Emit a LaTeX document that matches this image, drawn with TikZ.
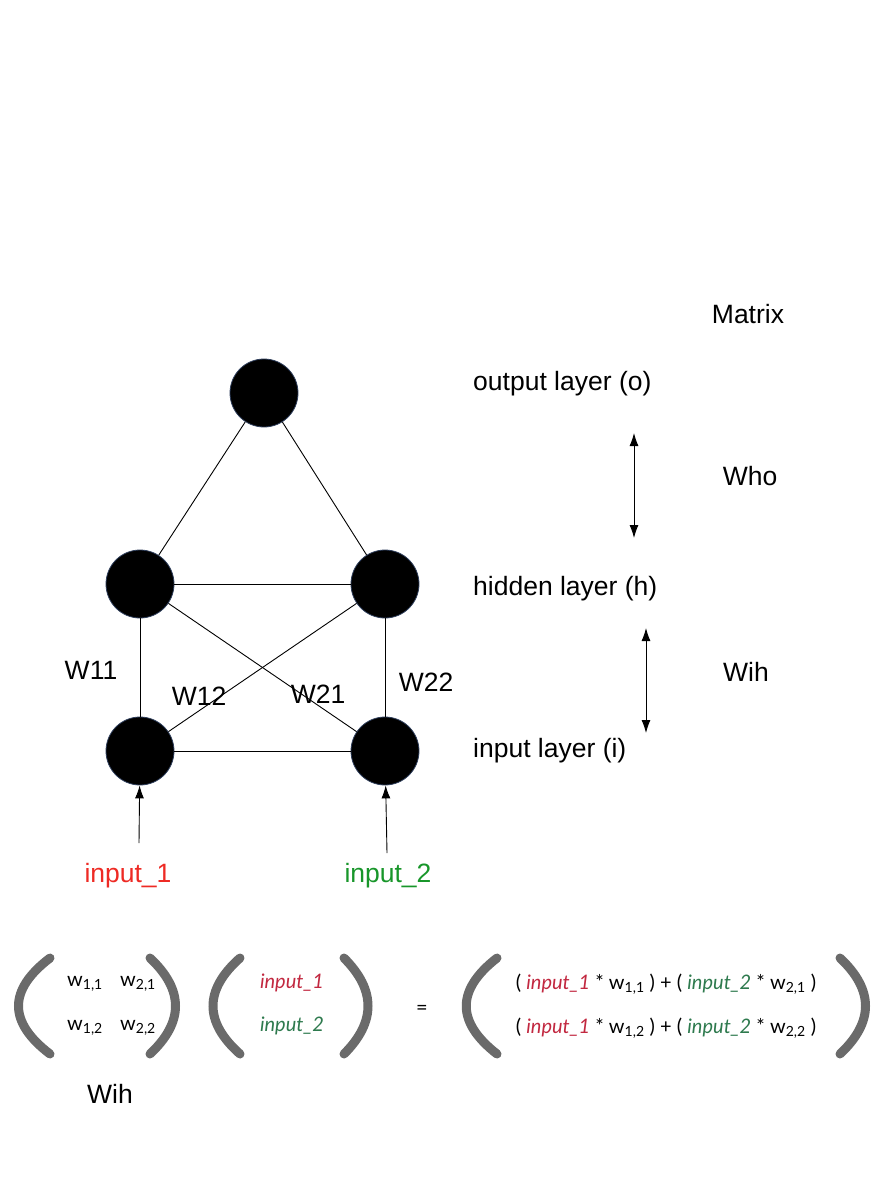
\documentclass[tikz,border=0pt]{standalone}
\usepackage{fontspec}
\setmainfont{Liberation Sans}
\newfontfamily\handfont{Lato}
\usetikzlibrary{arrows.meta}
\definecolor{inred}{HTML}{EE2A24}
\definecolor{ingreen}{HTML}{18962A}
\definecolor{mred}{HTML}{C22840}
\definecolor{mgreen}{HTML}{2E7A4E}
\definecolor{paren}{HTML}{6A6A6A}
\definecolor{rim}{HTML}{2E3E5C}
\begin{document}
\begin{tikzpicture}[x=1pt,y=-1pt,
  neuron/.style={circle,fill=black,draw=rim,line width=0.8pt,minimum size=68pt,inner sep=0pt},
  link/.style={draw=black,line width=0.9pt},
  feed/.style={draw=black,line width=0.9pt,-{Latex[length=13pt,width=9pt]}},
  both/.style={draw=black,line width=0.9pt,{Latex[length=13pt,width=9pt]}-{Latex[length=13pt,width=9pt]}},
  lbl/.style={font=\fontsize{26.5}{30}\selectfont,inner sep=0pt},
  mtx/.style={font=\handfont\fontsize{20}{24}\selectfont,inner sep=0pt},
  brk/.style={draw=paren,line width=9pt,line cap=round}]
\useasboundingbox (0,0) rectangle (893,1191);
\fill[white] (0,0) rectangle (893,1191);

% neurons
\node[neuron] (o)  at (264,393) {};
\node[neuron] (h1) at (140,584) {};
\node[neuron] (h2) at (385,584) {};
\node[neuron] (i1) at (140,751) {};
\node[neuron] (i2) at (385,751) {};

% connections
\draw[link] (o) -- (h1);
\draw[link] (o) -- (h2);
\draw[link] (h1) -- (h2);
\draw[link] (h1) -- (i1);
\draw[link] (h2) -- (i2);
\draw[link] (h1) -- (i2);
\draw[link] (h2) -- (i1);
\draw[link] (i1) -- (i2);

% inputs
\node[lbl,text=inred]   (x1) at (128,876) {input\_1};
\node[lbl,text=ingreen] (x2) at (388,876) {input\_2};
\coordinate (x1t) at (139,843);
\coordinate (x2t) at (387,853);
\draw[feed] (x1t) -- (i1);
\draw[feed] (x2t) -- (i2);

% weight labels
\node[lbl] (w11) at (91,670)  {W11};
\node[lbl] (w12) at (199,696) {W12};
\node[lbl] (w21) at (318,694) {W21};
\node[lbl] (w22) at (426,682) {W22};

% layer names
\node[lbl,anchor=west] (lo) at (473,384) {output layer (o)};
\node[lbl,anchor=west] (lh) at (473,589) {hidden layer (h)};
\node[lbl,anchor=west] (li) at (473,751) {input layer (i)};
\node[lbl] (mat) at (748,314) {Matrix};
\node[lbl] (who) at (750,476) {Who};
\node[lbl] (wih) at (746,672) {Wih};
\coordinate (a1) at (634,433);
\coordinate (a2) at (634,538);
\coordinate (b1) at (646,628);
\coordinate (b2) at (646,733);
\draw[both] (a1) -- (a2);
\draw[both] (b1) -- (b2);

% matrix product
\draw[brk] (50,958) .. controls (8,990) and (8,1022) .. (50,1054);
\draw[brk] (150,958) .. controls (184,990) and (184,1022) .. (150,1054);
\draw[brk] (240,958) .. controls (204,990) and (204,1022) .. (240,1054);
\draw[brk] (344,958) .. controls (376,990) and (376,1022) .. (344,1054);
\draw[brk] (497,958) .. controls (456,990) and (456,1022) .. (497,1054);
\draw[brk] (840,958) .. controls (874,990) and (874,1022) .. (840,1054);

\node[mtx] (m11) at (85,984)  {w\textsubscript{1,1}};
\node[mtx] (m21) at (138,984) {w\textsubscript{2,1}};
\node[mtx] (m12) at (85,1028) {w\textsubscript{1,2}};
\node[mtx] (m22) at (138,1028){w\textsubscript{2,2}};
\node[mtx,text=mred]   (v1) at (292,983)  {\itshape input\_1};
\node[mtx,text=mgreen] (v2) at (292,1026) {\itshape input\_2};
\node[mtx] (eq) at (422,1010) {=};
\node[mtx] (r1) at (666,984) {( {\color{mred}\itshape input\_1} * w\textsubscript{1,1} ) + ( {\color{mgreen}\itshape input\_2} * w\textsubscript{2,1} )};
\node[mtx] (r2) at (666,1028) {( {\color{mred}\itshape input\_1} * w\textsubscript{1,2} ) + ( {\color{mgreen}\itshape input\_2} * w\textsubscript{2,2} )};

\node[lbl] (wlab) at (110,1094) {Wih};
\end{tikzpicture}
\end{document}
